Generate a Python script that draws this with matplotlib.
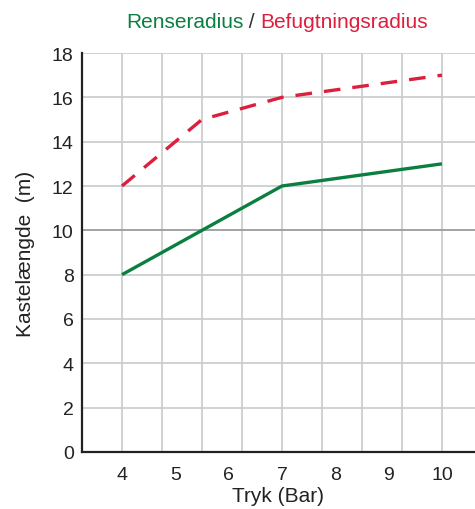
import matplotlib.pyplot as plt
import numpy as np

plt.rcParams['font.family'] = ['Liberation Sans', 'DejaVu Sans']

# data
tryk = [4, 7, 10]
rense = [8, 12, 13]
tryk_befugt = [4, 5.5, 7, 10]
befugt = [12, 15, 16, 17]
x_ticks = [4, 5, 6, 7, 8, 9, 10]
y_ticks = [0, 2, 4, 6, 8, 10, 12, 14, 16, 18]

green = '#0b7f40'
red = '#dc1f3c'
ink = '#222222'

fig = plt.figure(figsize=(4.75, 5.1), dpi=100)
ax = fig.add_axes([82 / 475, 57 / 510, 393 / 475, 399 / 510])

ax.set_xlim(3.25, 10.62)
ax.set_ylim(0, 18)

# grid: vertical lines every 0.75 bar, horizontal every 2 m (10 m darker)
for gx in np.arange(4, 10.7, 0.75):
    ax.axvline(gx, color='#cbcfcf', lw=1.3, zorder=1)
for gy in y_ticks[1:]:
    c = '#9a9d9d' if gy == 10 else '#cbcfcf'
    ax.axhline(gy, color=c, lw=1.3, zorder=1)

ax.plot(tryk, rense, color=green, lw=2.4, zorder=3, solid_capstyle='butt')
ax.plot(tryk_befugt, befugt, color=red, lw=2.4, zorder=3,
        dashes=(5, 3.6), dash_capstyle='butt')

ax.set_xticks(x_ticks)
ax.set_yticks(y_ticks)
ax.tick_params(length=0, labelsize=14, colors=ink, pad=6)
ax.tick_params(axis='x', pad=10)

for s in ['top', 'right']:
    ax.spines[s].set_visible(False)
for s in ['left', 'bottom']:
    ax.spines[s].set_linewidth(1.6)
    ax.spines[s].set_color(ink)

ax.set_xlabel('Tryk (Bar)', fontsize=15, color=ink, labelpad=2)
ax.set_ylabel('Kastelængde  (m)', fontsize=15, color=ink, labelpad=12)

# two-coloured title, centred around x = 277 px
parts = [('Renseradius', green), (' / ', '#333333'), ('Befugtningsradius', red)]
fig.canvas.draw()
r = fig.canvas.get_renderer()
objs = [fig.text(0, 0.955, s, color=c, fontsize=15, ha='left', va='center') for s, c in parts]
widths = [o.get_window_extent(r).width for o in objs]
x0 = 277 - sum(widths) / 2
for o, w in zip(objs, widths):
    o.set_x(x0 / 475)
    x0 += w

fig.savefig('out.png', dpi=100)
